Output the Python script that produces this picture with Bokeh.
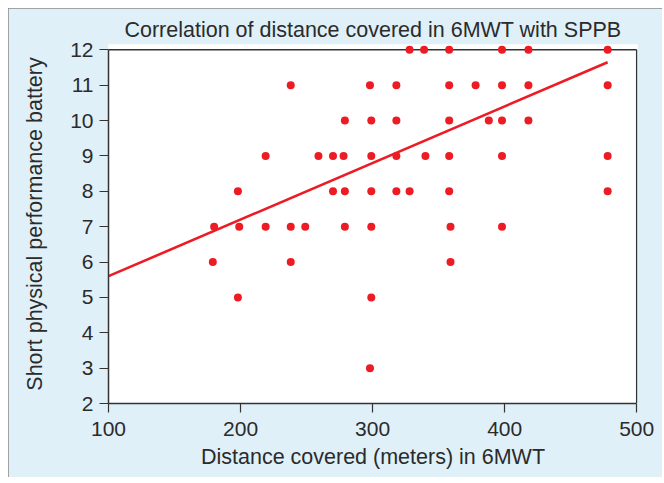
from bokeh.plotting import figure
from bokeh.models import Range1d, FixedTicker, ColumnDataSource
from bokeh.embed import file_html
from bokeh.resources import INLINE

# Data
distance = [328, 339, 358, 398, 418, 478,
            238, 298, 318, 358, 378, 398, 418, 478,
            279, 299, 318, 358, 388, 398, 418,
            219, 259, 270, 278, 299, 318, 340, 358, 398, 478,
            198, 270, 279, 299, 318, 328, 358, 478,
            180, 199, 219, 238, 249, 279, 299, 359, 398,
            179, 238, 359,
            198, 299,
            298]
sppb = [12] * 6 + [11] * 8 + [10] * 7 + [9] * 10 + [8] * 8 + [7] * 9 + [6] * 3 + [5] * 2 + [3]

fit_x = [100, 478]
fit_y = [5.6, 11.65]

x_ticks = [100, 200, 300, 400, 500]
y_ticks = [2, 3, 4, 5, 6, 7, 8, 9, 10, 11, 12]

title_text = "Correlation of distance covered in 6MWT with SPPB"
x_label = "Distance covered (meters) in 6MWT"
y_label = "Short physical performance battery"

FONT = "Liberation Sans"
TXT = "#2b2b2b"
AX = "#333333"
RED = "#ed1c24"

x0, x1 = x_ticks[0], x_ticks[-1]
y0, y1 = y_ticks[0], y_ticks[-1]

p = figure(width=654, height=469, output_backend="svg", toolbar_location=None,
           x_range=Range1d(x0, x1 + 0.6), y_range=Range1d(y0, y1 + 0.15),
           min_border_left=100, min_border_right=25, min_border_top=36, min_border_bottom=74)
p.styles = {"outline": "1.5px solid #8a8a8a", "outline-offset": "-1.5px", "margin": "8px"}
p.background_fill_color = "white"
p.border_fill_color = "#dff0f9"
p.outline_line_color = None
p.grid.visible = False

p.title.text = title_text
p.title.align = "center"
p.title.text_font = FONT
p.title.text_font_size = "21.5px"
p.title.text_font_style = "normal"
p.title.text_color = TXT
p.title.standoff = 6

for ax, ticks, b in ((p.xaxis[0], x_ticks, (x0, x1)), (p.yaxis[0], y_ticks, (y0, y1))):
    ax.ticker = FixedTicker(ticks=ticks)
    ax.bounds = b
    ax.axis_line_color = AX
    ax.axis_line_width = 1.5
    ax.major_tick_line_color = AX
    ax.major_tick_line_width = 1.2
    ax.major_tick_in = 0
    ax.major_tick_out = 9
    ax.minor_tick_line_color = None
    ax.major_label_text_font = FONT
    ax.major_label_text_font_size = "21px"
    ax.major_label_text_color = TXT
    ax.axis_label_text_font = FONT
    ax.axis_label_text_font_size = "21.5px"
    ax.axis_label_text_font_style = "normal"
    ax.axis_label_text_color = TXT

p.xaxis.axis_label = x_label
p.yaxis.axis_label = y_label
p.xaxis.major_label_standoff = 9
p.yaxis.major_label_standoff = 6
p.xaxis.axis_label_standoff = 6
p.yaxis.axis_label_standoff = 20

# frame border (top and right)
p.segment(x0=[x0, x1], y0=[y1, y0], x1=[x1, x1], y1=[y1, y1], line_color=AX, line_width=1.5)

p.line(fit_x, fit_y, line_color=RED, line_width=2.6)
src = ColumnDataSource(dict(x=distance, y=sppb))
p.scatter("x", "y", source=src, size=8, fill_color=RED, line_color=None)

open("out.html", "w").write(file_html(p, INLINE))
